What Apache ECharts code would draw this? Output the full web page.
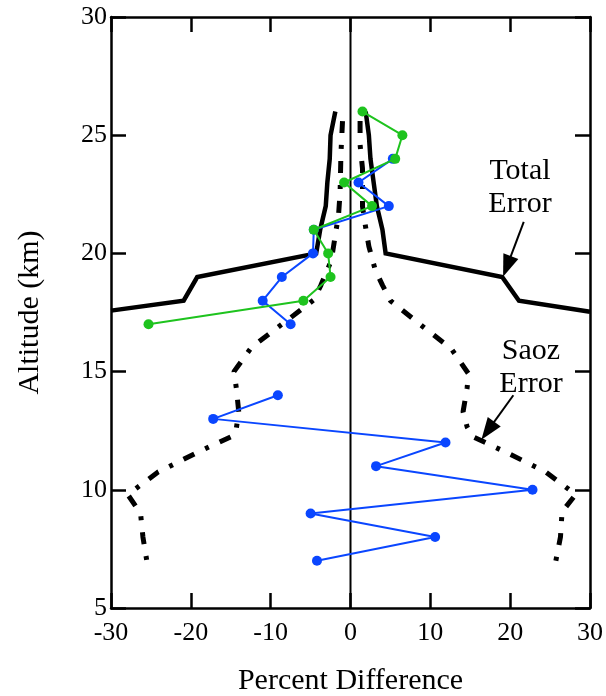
<!DOCTYPE html>
<html>
<head>
<meta charset="utf-8">
<script src="https://cdn.jsdelivr.net/npm/echarts@6/dist/echarts.min.js"></script>
<style>html,body{margin:0;padding:0;background:#fff}#c{width:606px;height:696px}</style>
</head>
<body>
<div id="c"></div>
<script>
// ---- data ----
const xTicks = [-30, -20, -10, 0, 10, 20, 30];
const yTicks = [5, 10, 15, 20, 25, 30];

const blueAlt = [24, 23, 22, 21, 20, 19, 18, 17, null, 14, 13, 12, 11, 10, 9, 8, 7];
const blueDiff = [5.3, 1.0, 4.8, -4.6, -4.7, -8.6, -11.0, -7.5, null, -9.1, -17.2, 11.9, 3.2, 22.8, -5.0, 10.6, -4.2];

const greenAlt = [26, 25, 24, 23, 22, 21, 20, 19, 18, 17];
const greenDiff = [1.5, 6.5, 5.6, -0.8, 2.7, -4.6, -2.8, -2.5, -5.9, -25.3];

const totalLeftAlt = [26, 25, 24, 23, 22, 21, 20, 19, 18, 17.58];
const totalLeftDiff = [-1.9, -2.5, -2.6, -2.9, -3.1, -3.8, -4.3, -19.2, -20.9, -30];
const totalRightAlt = [26, 25, 24, 23, 22, 21, 20, 19, 18, 17.53];
const totalRightDiff = [1.9, 2.3, 2.5, 2.9, 3.3, 4.0, 4.4, 19.0, 21.1, 30];

const saozLeftAlt = [25.6, 24.2, 22.6, 21.6, 21.0, 19.7, 18.66, 18.03, 17.28, 16.03, 15.0, 14.3, 13.3, 12.6, 12.3, 11.58, 10.75, 9.8, 9.0, 8.0, 6.96];
const saozLeftDiff = [-1.0, -1.2, -1.3, -1.5, -1.8, -2.4, -3.7, -4.6, -7.5, -12.4, -14.6, -14.3, -14.0, -14.3, -14.6, -19.2, -24.1, -27.9, -26.3, -26.0, -25.5];
const saozRightAlt = [25.6, 24.6, 23.6, 22.0, 21.3, 20.3, 19.3, 18.66, 18.0, 16.76, 15.98, 14.9, 14.3, 13.3, 12.67, 12.25, 11.6, 10.77, 9.8, 9.07, 8.0, 6.96];
const saozRightDiff = [1.2, 1.2, 1.5, 1.5, 1.8, 2.3, 3.1, 4.0, 5.0, 9.6, 12.6, 14.8, 14.6, 14.1, 14.6, 15.3, 19.4, 24.4, 28.2, 26.5, 26.3, 25.7];

const zeroAlt = [5, 30];
const zeroDiff = [0, 0];

const totalArrow = [[21.7, 21.33], [19.6, 19.45]];
const saozArrow = [[20.4, 14.0], [17.2, 12.5]];

const labels = { total: 'Total\nError', saoz: 'Saoz\nError', xName: 'Percent Difference', yName: 'Altitude (km)' };

function pairs(xs, ys) { return xs.map((x, i) => (x === null || ys[i] === null) ? [null, null] : [x, ys[i]]); }

const FONT = "'Liberation Serif', 'Times New Roman', serif";
const chart = echarts.init(document.getElementById('c'), null, { renderer: 'canvas' });

const axisCommon = {
  type: 'value',
  axisLine: { show: true, onZero: false, lineStyle: { color: '#000', width: 2.5 } },
  axisTick: { show: true, inside: true, length: 15, lineStyle: { color: '#000', width: 2.5 } },
  splitLine: { show: false }
};

const blackSolid = { color: '#000', width: 4.5, cap: 'butt', join: 'miter' };
const blackDash = { color: '#000', width: 5, type: [12, 12, 4, 12], cap: 'butt' };

chart.setOption({
  animation: false,
  backgroundColor: '#fff',
  grid: { left: 111, right: 16, top: 17, bottom: 88, containLabel: false, outerBoundsMode: 'none' },
  xAxis: [
    Object.assign({}, axisCommon, {
      position: 'bottom', min: -30, max: 30, interval: 10,
      axisLabel: { color: '#000', fontFamily: FONT, fontSize: 26, margin: 12 },
      name: labels.xName, nameLocation: 'middle', nameGap: 58,
      nameTextStyle: { color: '#000', fontFamily: FONT, fontSize: 30 }
    }),
    Object.assign({}, axisCommon, {
      position: 'top', min: -30, max: 30, interval: 10,
      axisLabel: { show: false }
    })
  ],
  yAxis: [
    Object.assign({}, axisCommon, {
      position: 'left', min: 5, max: 30, interval: 5,
      axisLabel: { color: '#000', fontFamily: FONT, fontSize: 26, margin: 4 },
      name: labels.yName, nameLocation: 'middle', nameGap: 66,
      nameTextStyle: { color: '#000', fontFamily: FONT, fontSize: 30 }
    }),
    Object.assign({}, axisCommon, {
      position: 'right', min: 5, max: 30, interval: 5,
      axisLabel: { show: false }
    })
  ],
  series: [
    { type: 'line', data: pairs(zeroDiff, zeroAlt), symbol: 'none', lineStyle: { color: '#000', width: 2 }, z: 1 },
    { type: 'line', data: pairs(totalLeftDiff, totalLeftAlt), symbol: 'none', lineStyle: blackSolid, z: 2 },
    { type: 'line', data: pairs(totalRightDiff, totalRightAlt), symbol: 'none', lineStyle: blackSolid, z: 2 },
    { type: 'line', data: pairs(saozLeftDiff, saozLeftAlt), symbol: 'none', lineStyle: blackDash, z: 2 },
    { type: 'line', data: pairs(saozRightDiff, saozRightAlt), symbol: 'none', lineStyle: blackDash, z: 2 },
    { type: 'line', data: pairs(blueDiff, blueAlt), connectNulls: false, symbol: 'circle', symbolSize: 10,
      lineStyle: { color: '#0a46ff', width: 2 }, itemStyle: { color: '#0a46ff' }, z: 3 },
    { type: 'line', data: pairs(greenDiff, greenAlt), symbol: 'circle', symbolSize: 10,
      lineStyle: { color: '#1ec31e', width: 2 }, itemStyle: { color: '#1ec31e' }, z: 4 },
    { type: 'line', data: [], z: 5,
      markLine: {
        silent: true, animation: false,
        symbol: ['none', 'triangle'], symbolSize: [16, 22],
        label: { show: false },
        lineStyle: { color: '#000', width: 2, type: 'solid' },
        data: [
          [{ coord: totalArrow[0] }, { coord: totalArrow[1] }],
          [{ coord: saozArrow[0] }, { coord: saozArrow[1] }]
        ]
      }
    }
  ],
  graphic: [
    { type: 'text', x: 520, y: 155, style: { text: labels.total, font: '30px ' + FONT, fill: '#000', textAlign: 'center', lineHeight: 33 } },
    { type: 'text', x: 531, y: 335, style: { text: labels.saoz, font: '30px ' + FONT, fill: '#000', textAlign: 'center', lineHeight: 33 } }
  ]
});
</script>
</body>
</html>
